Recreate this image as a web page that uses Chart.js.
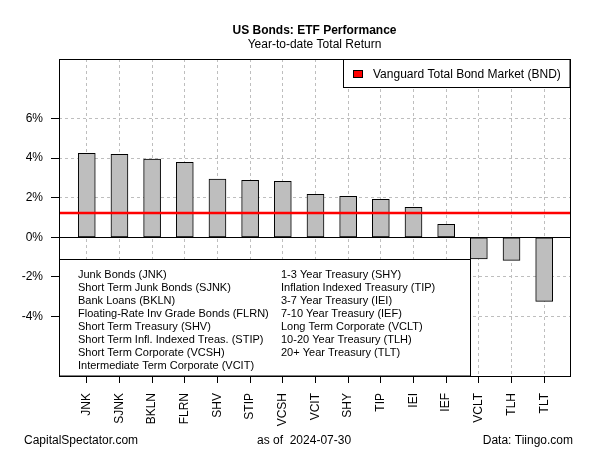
<!DOCTYPE html>
<html>
<head>
<meta charset="utf-8">
<script src="https://cdn.jsdelivr.net/npm/chart.js@4/dist/chart.umd.min.js"></script>
<style>
  html, body { margin: 0; padding: 0; background: #fff; }
  #wrap { width: 600px; height: 450px; }
</style>
</head>
<body>
<div id="wrap"><canvas id="chart" width="600" height="450"></canvas></div>
<script>
// --- data (year-to-date total return, %) ---
const tickers = ['JNK','SJNK','BKLN','FLRN','SHV','STIP','VCSH','VCIT','SHY','TIP','IEI','IEF','VCLT','TLH','TLT'];
const returns = [4.24, 4.19, 3.95, 3.78, 2.94, 2.87, 2.82, 2.17, 2.07, 1.92, 1.51, 0.66, -1.09, -1.16, -3.23];
const bndReturn = 1.23;
const yTicks = [-4, -2, 0, 2, 4, 6];
const namesLeft = [
  'Junk Bonds (JNK)', 'Short Term Junk Bonds (SJNK)', 'Bank Loans (BKLN)',
  'Floating-Rate Inv Grade Bonds (FLRN)', 'Short Term Treasury (SHV)',
  'Short Term Infl. Indexed Treas. (STIP)', 'Short Term Corporate (VCSH)',
  'Intermediate Term Corporate (VCIT)'
];
const namesRight = [
  '1-3 Year Treasury (SHY)', 'Inflation Indexed Treasury (TIP)', '3-7 Year Treasury (IEI)',
  '7-10 Year Treasury (IEF)', 'Long Term Corporate (VCLT)', '10-20 Year Treasury (TLH)',
  '20+ Year Treasury (TLT)'
];

const FONT = '"Liberation Sans", Arial, sans-serif';
const GRID = '#bebebe';

// title, footer, BND line and the two legend boxes
const decor = {
  id: 'decor',
  afterDatasetsDraw(chart) {
    const { ctx, chartArea: a, scales } = chart;
    const y = scales.y;
    ctx.save();

    // zero line
    const y0 = Math.round(y.getPixelForValue(0)) + 0.5;
    ctx.strokeStyle = '#000';
    ctx.lineWidth = 1;
    ctx.beginPath(); ctx.moveTo(a.left, y0); ctx.lineTo(a.right, y0); ctx.stroke();

    // BND reference line
    const yb = y.getPixelForValue(bndReturn);
    ctx.strokeStyle = '#ff0000';
    ctx.lineWidth = 2.5;
    ctx.beginPath(); ctx.moveTo(a.left, yb); ctx.lineTo(a.right, yb); ctx.stroke();

    // top-right legend
    ctx.lineWidth = 1;
    ctx.fillStyle = '#fff';
    ctx.strokeStyle = '#000';
    ctx.fillRect(343.5, a.top + 0.5, a.right - 343.5, 28);
    ctx.strokeRect(343.5, a.top + 0.5, a.right - 343.5, 28);
    ctx.fillStyle = '#ff0000';
    ctx.fillRect(353.5, 70.5, 9, 7);
    ctx.strokeRect(353.5, 70.5, 9, 7);
    ctx.fillStyle = '#000';
    ctx.font = '12px ' + FONT;
    ctx.textAlign = 'left';
    ctx.textBaseline = 'middle';
    ctx.fillText('Vanguard Total Bond Market (BND)', 373, 74.5);

    // lower-left name legend
    ctx.fillStyle = '#fff';
    ctx.fillRect(a.left + 0.5, 259.5, 411, a.bottom - 259.5);
    ctx.strokeRect(a.left + 0.5, 259.5, 411, a.bottom - 259.5);
    ctx.fillStyle = '#000';
    ctx.font = '11px ' + FONT;
    namesLeft.forEach((t, i) => ctx.fillText(t, 78, 274.5 + i * 13.05));
    namesRight.forEach((t, i) => ctx.fillText(t, 281, 274.5 + i * 13.05));

    // plot frame
    ctx.strokeRect(Math.round(a.left) + 0.5, Math.round(a.top) + 0.5,
      Math.round(a.right - a.left), Math.round(a.bottom - a.top));

    // titles
    ctx.textAlign = 'center';
    const cx = (a.left + a.right) / 2;
    ctx.font = 'bold 12px ' + FONT;
    ctx.fillText('US Bonds: ETF Performance', cx, 30.5);
    ctx.font = '12px ' + FONT;
    ctx.fillText('Year-to-date Total Return', cx, 45);

    // footer
    ctx.textAlign = 'left';
    ctx.fillText('CapitalSpectator.com', 24, 441);
    ctx.fillText('as of  2024-07-30', 257, 441);
    ctx.textAlign = 'right';
    ctx.fillText('Data: Tiingo.com', 573, 441);
    ctx.restore();
  }
};

new Chart(document.getElementById('chart'), {
  type: 'bar',
  data: {
    datasets: [{
      data: returns.map((v, i) => ({ x: i, y: v })),
      backgroundColor: '#bebebe',
      borderColor: '#000',
      borderWidth: 1,
      borderSkipped: false,
      barThickness: 17
    }]
  },
  options: {
    responsive: false,
    animation: false,
    devicePixelRatio: 1,
    layout: { padding: { top: 59, right: 30, left: 0, bottom: 0 } },
    plugins: { legend: { display: false }, tooltip: { enabled: false }, title: { display: false } },
    scales: {
      x: {
        type: 'linear',
        offset: false,
        min: -0.85,
        max: 14.79,
        afterBuildTicks: s => { s.ticks = tickers.map((_, i) => ({ value: i })); },
        afterFit: s => { s.height = 74; },
        grid: { offset: false, color: GRID, tickColor: '#000', tickLength: 7, tickBorderDash: [] },
        border: { display: false, dash: [3, 3] },
        ticks: {
          autoSkip: false,
          minRotation: 90,
          maxRotation: 90,
          padding: 10,
          color: '#000',
          font: { family: FONT, size: 12 },
          callback: v => tickers[v]
        }
      },
      y: {
        min: -7,
        max: 9,
        afterBuildTicks: s => { s.ticks = yTicks.map(v => ({ value: v })); },
        afterFit: s => { s.width = 59; },
        grid: {
          color: c => (c.tick && c.tick.value === 0) ? 'rgba(0,0,0,0)' : GRID,
          tickColor: '#000', tickLength: 8, tickBorderDash: []
        },
        border: { display: false, dash: [3, 3] },
        ticks: {
          padding: 8,
          color: '#000',
          font: { family: FONT, size: 12 },
          callback: v => v + '%'
        }
      }
    }
  },
  plugins: [decor]
});
</script>
</body>
</html>
